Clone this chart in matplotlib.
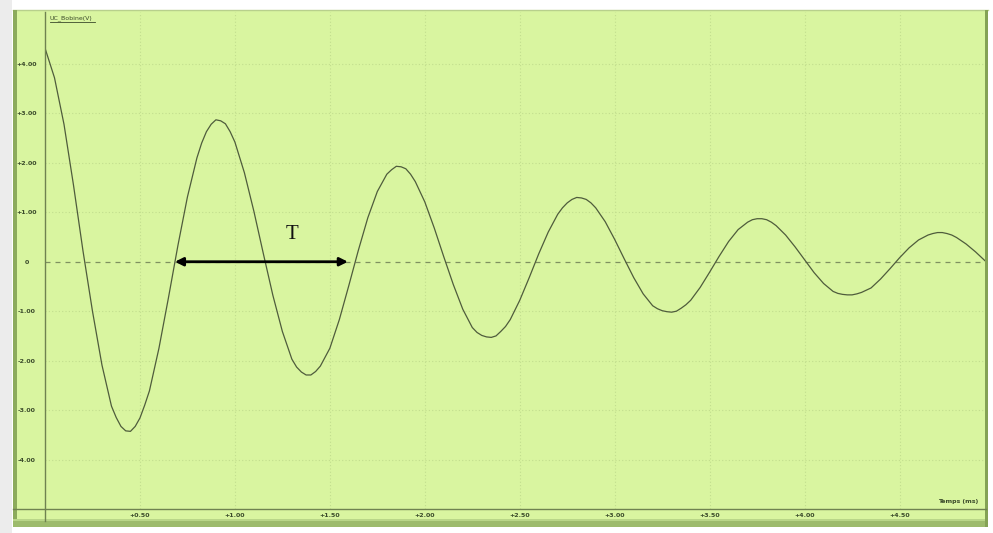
import numpy as np
import matplotlib
matplotlib.use("Agg")
import matplotlib.pyplot as plt
from matplotlib.patches import Rectangle
from matplotlib.lines import Line2D

t_ms = np.round(np.arange(0, 4.96, 0.05), 2)
uc_bobine = [
    4.32, 3.72, 2.78, 1.55, 0.22, -1.00, -2.09, -2.92, -3.33, -3.43,
    -3.16, -2.61, -1.75, -0.73, 0.33, 1.31, 2.10, 2.63, 2.87, 2.79,
    2.42, 1.80, 1.02, 0.16, -0.68, -1.41, -1.97, -2.23, -2.29, -2.11,
    -1.75, -1.17, -0.48, 0.23, 0.89, 1.42, 1.77, 1.93, 1.88, 1.62,
    1.21, 0.68, 0.10, -0.46, -0.96, -1.33, -1.49, -1.53, -1.41, -1.17,
    -0.78, -0.32, 0.16, 0.60, 0.96, 1.19, 1.30, 1.26, 1.09, 0.81,
    0.45, 0.06, -0.32, -0.65, -0.89, -0.99, -1.02, -0.94, -0.78, -0.52,
    -0.21, 0.11, 0.41, 0.65, 0.80, 0.87, 0.85, 0.73, 0.54, 0.30,
    0.04, -0.22, -0.44, -0.60, -0.66, -0.67, -0.62, -0.53, -0.35, -0.14,
    0.08, 0.28, 0.44, 0.54, 0.59, 0.57, 0.49, 0.36, 0.20, 0.02,
]
# extra readings around the turning points
extra_t = [0.375, 0.425, 0.475, 0.525, 0.825, 0.875, 0.925, 0.975,
           1.325, 1.375, 1.425, 1.825, 1.875, 1.925, 2.275, 2.325, 2.375, 2.425,
           2.725, 2.775, 2.825, 2.875, 3.225, 3.275, 3.325, 3.375,
           3.725, 3.775, 3.825, 4.175, 4.225, 4.275, 4.675, 4.725, 4.775]
extra_v = [-3.15, -3.42, -3.33, -2.90, 2.40, 2.78, 2.85, 2.63,
           -2.13, -2.29, -2.22, 1.86, 1.92, 1.77, -1.43, -1.52, -1.50, -1.31,
           1.09, 1.26, 1.29, 1.19, -0.95, -1.01, -1.00, -0.87,
           0.85, 0.87, 0.80, -0.64, -0.67, -0.65, 0.57, 0.59, 0.54]

x_ticks = [0.5, 1.0, 1.5, 2.0, 2.5, 3.0, 3.5, 4.0, 4.5]
x_tick_labels = ["+0.50", "+1.00", "+1.50", "+2.00", "+2.50", "+3.00", "+3.50", "+4.00", "+4.50"]
y_ticks = [4, 3, 2, 1, 0, -1, -2, -3, -4]
y_tick_labels = ["+4.00", "+3.00", "+2.00", "+1.00", "0", "-1.00", "-2.00", "-3.00", "-4.00"]
period_start, period_end = 0.684, 1.595

all_t = np.concatenate([t_ms, extra_t])
all_v = np.concatenate([uc_bobine, extra_v])
order = np.argsort(all_t, kind="stable")
all_t, all_v = all_t[order], all_v[order]

W, H = 993, 533
fig = plt.figure(figsize=(W / 100, H / 100), dpi=100)
fig.patch.set_facecolor("white")

def fx(px):
    return px / W

def fy(py):
    return 1 - py / H

green = "#d9f5a0"
# panel with bevelled border
fig.patches.append(Rectangle((fx(0), fy(533)), fx(12), 1, transform=fig.transFigure,
                             facecolor="#ececec", edgecolor="none", zorder=0))
fig.patches.append(Rectangle((fx(13), fy(527)), fx(975), (517) / H, transform=fig.transFigure,
                             facecolor=green, edgecolor="none", zorder=0))
fig.patches.append(Rectangle((fx(13), fy(527)), fx(4), (517) / H, transform=fig.transFigure,
                             facecolor="#8cab5c", edgecolor="none", zorder=1))
fig.patches.append(Rectangle((fx(13), fy(527)), fx(975), 7 / H, transform=fig.transFigure,
                             facecolor="#9dbb6c", edgecolor="none", zorder=1))
fig.patches.append(Rectangle((fx(13), fy(521)), fx(975), 2 / H, transform=fig.transFigure,
                             facecolor="#b9d688", edgecolor="none", zorder=1))
fig.patches.append(Rectangle((fx(985), fy(527)), fx(3), (517) / H, transform=fig.transFigure,
                             facecolor="#84a255", edgecolor="none", zorder=1))
fig.lines.append(Line2D([fx(13), fx(988)], [fy(10), fy(10)], transform=fig.transFigure,
                        color="#b8d08c", lw=1.0, zorder=1))

ax = fig.add_axes([fx(45), fy(509), fx(985 - 45), (509 - 12) / H])
ax.set_zorder(3)
ax.set_facecolor("none")
ax.set_xlim(0, 4.95)
ax.set_ylim(-5, 5.05)
for s in ax.spines.values():
    s.set_visible(False)

# grid
for xv in x_ticks:
    ax.axvline(xv, color="#c2dd8e", lw=0.8, ls=(0, (1, 2)), zorder=1)
for yv in y_ticks:
    if yv != 0:
        ax.axhline(yv, color="#c2dd8e", lw=0.8, ls=(0, (1, 2)), zorder=1)
ax.axhline(0, color="#7f9160", lw=0.9, ls=(0, (4, 4)), zorder=2)

ax.set_xticks(x_ticks)
ax.set_xticklabels(x_tick_labels, fontsize=4.5, fontweight="bold", color="#3a4a2a")
ax.set_yticks(y_ticks)
ax.set_yticklabels(y_tick_labels, fontsize=4.5, fontweight="bold", color="#3a4a2a", ha="center")
ax.tick_params(axis="x", length=0, pad=3)
ax.tick_params(axis="y", length=0, pad=13)

ax.plot(all_t, all_v, color="#4f5c3c", lw=0.9, zorder=3, solid_joinstyle="round")

# axis lines crossing like the original software
fig.lines.append(Line2D([fx(45), fx(45)], [fy(12), fy(521)], transform=fig.transFigure,
                        color="#6f8250", lw=1.0, zorder=5))
fig.lines.append(Line2D([fx(13), fx(986)], [fy(509), fy(509)], transform=fig.transFigure,
                        color="#6f8250", lw=1.0, zorder=5))

fig.text(fx(50), fy(18), "UC_Bobine(V)", fontsize=4.5, color="#3a4a2a", va="center", ha="left")
fig.lines.append(Line2D([fx(50), fx(95)], [fy(22), fy(22)], transform=fig.transFigure,
                        color="#3a4a2a", lw=0.6))
fig.text(fx(978), fy(502), "Temps (ms)", fontsize=4.5, fontweight="bold", color="#3a4a2a",
         va="center", ha="right")

# period annotation
ax.annotate("", xy=(period_start, 0), xytext=(period_end, 0),
            arrowprops=dict(arrowstyle="<|-|>", color="black", lw=2.0, mutation_scale=12,
                            shrinkA=0, shrinkB=0), zorder=6)
ax.text(1.30, 0.55, "T", fontsize=15,
        family="Liberation Serif", ha="center", va="center", color="#111111")

fig.savefig("out.png", dpi=100)
